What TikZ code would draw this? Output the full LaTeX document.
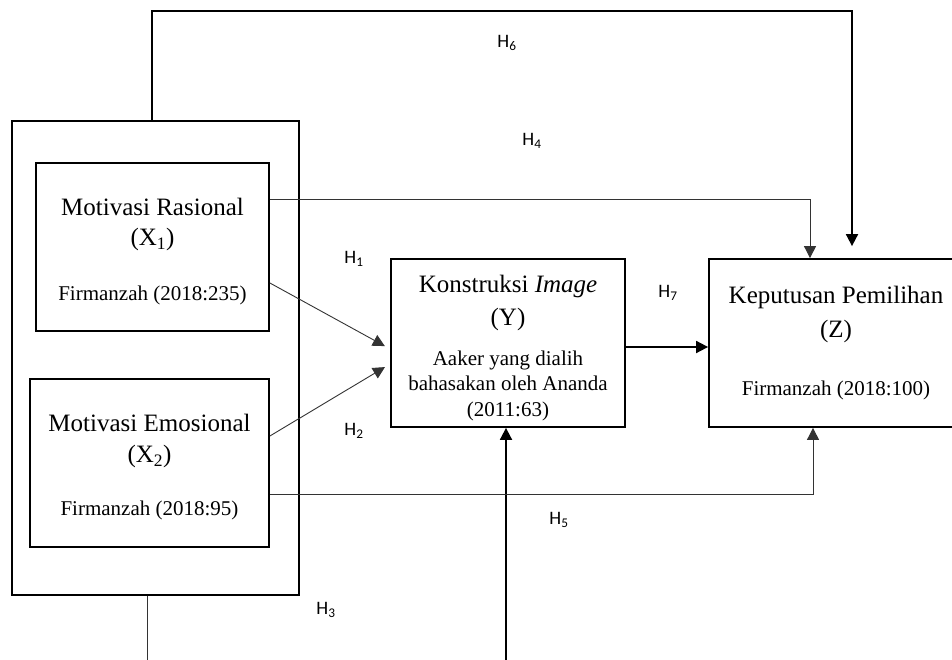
\documentclass[tikz,border=0pt]{standalone}
\usepackage{fontspec}
\setmainfont{Liberation Serif}
\newfontfamily\hypfont{Carlito}
\usetikzlibrary{arrows.meta}
\newcommand{\titlefont}{\fontsize{25}{30}\selectfont}
\newcommand{\citefont}{\fontsize{21}{30}\selectfont}

\begin{document}
\begin{tikzpicture}[x=1pt,y=-1pt]
    \tikzstyle{varbox} = [rectangle, draw, line width=1.8pt, inner sep=0pt, align=center, minimum height=168pt, font=\titlefont]
    \tikzstyle{hyp} = [font=\hypfont\fontsize{19}{22}\selectfont, inner sep=0pt]
    \tikzstyle{thinline} = [line width=0.9pt, black!80]
    \tikzstyle{boldline} = [line width=1.8pt]
    \tikzstyle{arrow} = [-{Triangle[length=12pt,width=12pt]}]

    \useasboundingbox (0,0) rectangle (952,660);

    % Motivasi (X1, X2)
    \node [varbox, minimum width=287pt, minimum height=474pt] (xgroup) at (155.5,358) {};

    % Motivasi Rasional
    \node [varbox, minimum width=233pt] (x1) at (152.5,247) {\titlefont\rule{0pt}{27pt}Motivasi Rasional\\ \titlefont (X\textsubscript{1})\\[25pt] \citefont Firmanzah (2018:235)};

    % Motivasi Emosional
    \node [varbox, minimum width=239pt] (x2) at (149.5,463) {\titlefont\rule{0pt}{25pt}Motivasi Emosional\\[1pt] \titlefont (X\textsubscript{2})\\[23pt] \citefont Firmanzah (2018:95)};

    % Konstruksi Image
    \node [varbox, minimum width=234pt] (y) at (508,343) {\titlefont\rule{0pt}{27pt}Konstruksi \textit{Image}\\[3pt] \titlefont (Y)\\[10pt] \citefont Aaker yang dialih\\[-4.5pt] \citefont bahasakan oleh Ananda\\[-4.5pt] \citefont (2011:63)};

    % Keputusan Pemilihan
    \node [varbox, minimum width=254pt] (z) at (836,343) {\titlefont Keputusan Pemilihan\\[4pt] \titlefont (Z)\\[28pt] \citefont Firmanzah (2018:100)};

    % Hipotesis
    \coordinate (h6top) at (852,11);
    \coordinate (h3left) at (147,700);
    \coordinate (h3right) at (506,700);

    \draw [thinline, arrow, shorten >=6pt] ([yshift=-36pt]x1.east) -- ([yshift=-6pt]y.west);
    \draw [thinline, arrow, shorten >=6pt] ([yshift=27pt]x2.east) -- ([yshift=-21pt]y.west);
    \draw [thinline] ([xshift=-8.5pt]xgroup.south) -- (h3left);
    \draw [boldline, arrow] (h3right) -- ([xshift=-2pt]y.south);
    \draw [thinline, arrow] ([yshift=48pt]x1.east) -| ([xshift=-26pt]z.north);
    \draw [thinline, arrow] ([yshift=-31pt]x2.east) -| ([xshift=-23pt]z.south);
    \draw [boldline, arrow, shorten >=12pt] ([xshift=-3.5pt]xgroup.north) |- (h6top) -- ([xshift=16pt]z.north);
    \draw [boldline, arrow] ([yshift=-4pt]y.east) -- ([yshift=-4pt]z.west);

    \node [hyp] (h1) at (354,259) {H\textsubscript{1}};
    \node [hyp] (h2) at (354,431) {H\textsubscript{2}};
    \node [hyp] (h3) at (326,610) {H\textsubscript{3}};
    \node [hyp] (h4) at (532,141) {H\textsubscript{4}};
    \node [hyp] (h5) at (559,520) {H\textsubscript{5}};
    \node [hyp] (h6) at (507,43) {H\textsubscript{6}};
    \node [hyp] (h7) at (668,293) {H\textsubscript{7}};

\end{tikzpicture}
\end{document}
